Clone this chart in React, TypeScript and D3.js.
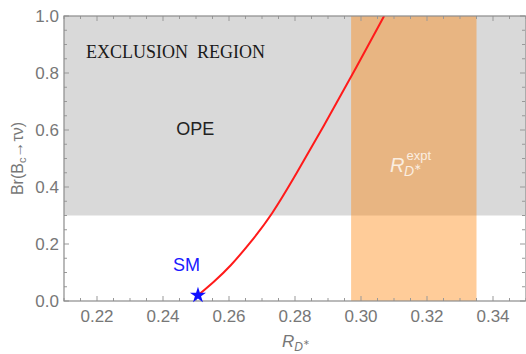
import React, { useRef, useEffect } from "react";
import * as d3 from "d3";

// red curve: Br(Bc -> tau nu) vs R_D*
const curveRD = [0.2506, 0.2555, 0.2603, 0.2665, 0.2729, 0.2805, 0.2886, 0.2972, 0.3070];
const curveBr = [0.02, 0.068, 0.12, 0.205, 0.30, 0.448, 0.612, 0.79, 1.0];

// standard model point
const smRD = [0.2506];
const smBr = [0.02];

// experimental band and excluded region
const exptBand = [0.297, 0.335];
const exclusionBr = [0.3, 1.0];

const xTicks = [0.22, 0.24, 0.26, 0.28, 0.3, 0.32, 0.34];
const yTicks = [0.0, 0.2, 0.4, 0.6, 0.8, 1.0];

const W = 526;
const H = 354;
const FONT = "'Liberation Sans', Arial, sans-serif";

const App = () => {
  const svgRef = useRef<SVGSVGElement>(null);

  useEffect(() => {
    const margin = { top: 16, right: 0, bottom: 53, left: 64 };
    const svg = d3.select(svgRef.current);
    svg.selectAll("*").remove();

    const x = d3.scaleLinear().domain([0.21, 0.35]).range([margin.left, W - margin.right]);
    const y = d3.scaleLinear().domain([0, 1]).range([H - margin.bottom, margin.top]);

    svg.append("defs").append("clipPath").attr("id", "plotclip")
      .append("rect")
      .attr("x", x(0.21)).attr("y", y(1))
      .attr("width", x(0.35) - x(0.21)).attr("height", y(0) - y(1));

    const plot = svg.append("g").attr("clip-path", "url(#plotclip)");

    // exclusion region
    plot.append("rect")
      .attr("x", x(0.21)).attr("width", x(0.35) - x(0.21))
      .attr("y", y(exclusionBr[1])).attr("height", y(exclusionBr[0]) - y(exclusionBr[1]))
      .attr("fill", "#d9d9d9");

    // experimental band
    plot.append("rect")
      .attr("x", x(exptBand[0])).attr("width", x(exptBand[1]) - x(exptBand[0]))
      .attr("y", y(1)).attr("height", y(0) - y(1))
      .attr("fill", "rgb(255,128,0)").attr("fill-opacity", 0.4);

    // ticks (inside frame)
    const minorX = d3.range(0.21, 0.3501, 0.005);
    const minorY = d3.range(0, 1.0001, 0.05);
    const tickG = svg.append("g").attr("stroke", "#999").attr("stroke-width", 1);
    minorX.forEach(v => {
      const major = xTicks.some(t => Math.abs(t - v) < 1e-6);
      const len = major ? 5 : 3;
      tickG.append("line").attr("x1", x(v)).attr("x2", x(v)).attr("y1", y(0)).attr("y2", y(0) - len);
      tickG.append("line").attr("x1", x(v)).attr("x2", x(v)).attr("y1", y(1)).attr("y2", y(1) + len);
    });
    minorY.forEach(v => {
      const major = yTicks.some(t => Math.abs(t - v) < 1e-6);
      const len = major ? 5 : 3;
      tickG.append("line").attr("y1", y(v)).attr("y2", y(v)).attr("x1", x(0.21)).attr("x2", x(0.21) + len);
      tickG.append("line").attr("y1", y(v)).attr("y2", y(v)).attr("x1", x(0.35) - 1).attr("x2", x(0.35) - 1 - len);
    });

    // frame
    svg.append("rect")
      .attr("x", x(0.21)).attr("y", y(1))
      .attr("width", x(0.35) - x(0.21)).attr("height", y(0) - y(1))
      .attr("fill", "none").attr("stroke", "#8c8c8c").attr("stroke-width", 1.2);

    // tick labels
    svg.append("g").selectAll("text").data(xTicks).join("text")
      .attr("x", d => x(d)).attr("y", y(0) + 21)
      .attr("text-anchor", "middle")
      .attr("font-family", FONT).attr("font-size", 17).attr("fill", "#777")
      .text(d => d3.format(".2f")(d));
    svg.append("g").selectAll("text").data(yTicks).join("text")
      .attr("x", x(0.21) - 5).attr("y", d => y(d) + 6)
      .attr("text-anchor", "end")
      .attr("font-family", FONT).attr("font-size", 17).attr("fill", "#777")
      .text(d => d3.format(".1f")(d));

    // red curve
    const line = d3.line<number>()
      .x((d, i) => x(curveRD[i]))
      .y(d => y(d))
      .curve(d3.curveBasis);
    plot.append("path")
      .datum(curveBr)
      .attr("d", line)
      .attr("fill", "none").attr("stroke", "#ff1a1a").attr("stroke-width", 2);

    // SM star
    svg.append("g").selectAll("path").data(smRD).join("path")
      .attr("transform", (d, i) => `translate(${x(d)},${y(smBr[i])})`)
      .attr("d", d3.symbol().type(d3.symbolStar).size(80)())
      .attr("fill", "#1010ff");

    // annotations
    svg.append("text")
      .attr("x", x(0.2167)).attr("y", y(0.853))
      .attr("font-family", "'Liberation Serif', 'Times New Roman', serif")
      .attr("font-size", 18).attr("fill", "#1a1a1a")
      .attr("xml:space", "preserve")
      .text("EXCLUSION  REGION");
    svg.append("text")
      .attr("x", x(0.2498)).attr("y", y(0.582))
      .attr("text-anchor", "middle")
      .attr("font-family", FONT).attr("font-size", 18).attr("fill", "#222")
      .text("OPE");
    svg.append("text")
      .attr("x", x(0.243)).attr("y", y(0.105))
      .attr("font-family", FONT).attr("font-size", 18).attr("fill", "#1a1aff")
      .text("SM");

    const expt = svg.append("text")
      .attr("x", x(0.3088)).attr("y", y(0.4526))
      .attr("font-family", FONT).attr("fill", "#fbeee0");
    expt.append("tspan").attr("font-style", "italic").attr("font-size", 20).text("R");
    expt.append("tspan").attr("font-size", 13).attr("dy", -12).attr("dx", 2).text("expt");
    svg.append("text")
      .attr("x", x(0.3088) + 14).attr("y", y(0.4526) + 4)
      .attr("font-family", FONT).attr("fill", "#fbeee0")
      .attr("font-style", "italic").attr("font-size", 14)
      .text("D")
      .append("tspan").attr("font-style", "normal").attr("font-size", 9).attr("dy", -6).text("∗");

    // axis titles
    const xl = svg.append("text")
      .attr("x", 282).attr("y", 347)
      .attr("font-family", FONT).attr("fill", "#777");
    xl.append("tspan").attr("font-style", "italic").attr("font-size", 17).text("R");
    xl.append("tspan").attr("font-style", "italic").attr("font-size", 12).attr("dy", 4).text("D");
    xl.append("tspan").attr("font-size", 8).attr("dy", -6).text("∗");

    const yl = svg.append("text")
      .attr("transform", `translate(23,${(y(0) + y(1)) / 2}) rotate(-90)`)
      .attr("text-anchor", "middle")
      .attr("font-family", FONT).attr("font-size", 16).attr("fill", "#777");
    yl.append("tspan").text("Br(B");
    yl.append("tspan").attr("font-size", 11).attr("dy", 3).text("c");
    yl.append("tspan").attr("dy", -3).text("→τν)");
  }, []);

  return (
    <div>
      <svg ref={svgRef} width={W} height={H} style={{ position: "absolute", left: 0, top: 0, background: "#fff" }} />
    </div>
  );
};

export default App;
